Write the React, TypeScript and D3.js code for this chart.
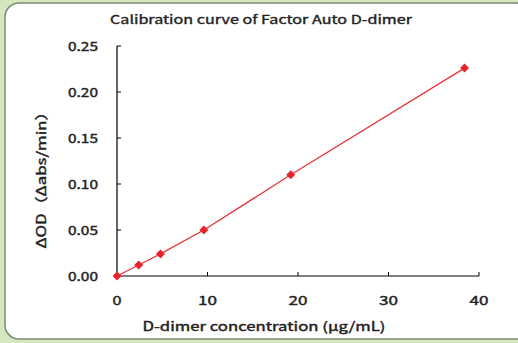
import React from "react";
import * as d3 from "d3";

const xValues = [0, 2.4, 4.8, 9.6, 19.2, 38.4];
const yValues = [0, 0.012, 0.024, 0.05, 0.11, 0.226];
const xTicks = [0, 10, 20, 30, 40];
const yTicks = [0, 0.05, 0.1, 0.15, 0.2, 0.25];
const title = "Calibration curve of Factor Auto D-dimer";
const xLabel = "D-dimer concentration (μg/mL)";
const yLabel = "ΔOD（Δabs/min）";

export default function App() {
  const W = 518, H = 343;
  const x = d3.scaleLinear().domain([0, 40]).range([117, 479]);
  const y = d3.scaleLinear().domain([0, 0.25]).range([276, 46]);
  const pts = xValues.map((v, i) => [x(v), y(yValues[i])] as [number, number]);
  const line = d3.line()(pts) || "";
  const marker = d3.symbol().type(d3.symbolSquare).size(40)() || "";
  const font = "'Noto Sans CJK JP', 'Noto Sans', sans-serif";
  const txt = { fontFamily: font, fill: "#222", stroke: "#222", strokeWidth: 0.4 } as const;
  return (
    <svg width={W} height={H} style={{ position: "fixed", left: 0, top: 0 }}>
      <rect x={0} y={0} width={W} height={H} fill="#d3e8bf" />
      <rect x={5} y={3} width={525} height={336} rx={14} fill="#ffffff" stroke="#7d8a74" strokeWidth={1.5} />
      <text x={261} y={24} textAnchor="middle" {...txt} strokeWidth={0.35} fontSize={12} textLength={302} lengthAdjust="spacingAndGlyphs">{title}</text>
      <line x1={x(0)} x2={x(40)} y1={y(0)} y2={y(0)} stroke="#000" strokeWidth={1.2} />
      <line x1={x(0)} x2={x(0)} y1={y(0)} y2={y(0.25)} stroke="#000" strokeWidth={1.2} />
      {xTicks.map((t) => (
        <g key={"x" + t}>
          {t > 0 && <line x1={x(t)} x2={x(t)} y1={y(0)} y2={y(0) - 4} stroke="#000" strokeWidth={1} />}
          <text x={x(t)} y={305} textAnchor="middle" {...txt} fontSize={12.5} textLength={t === 0 ? 9 : 19} lengthAdjust="spacingAndGlyphs">{t}</text>
        </g>
      ))}
      {yTicks.map((t) => (
        <g key={"y" + t}>
          {t > 0 && <line x1={x(0)} x2={x(0) + 4} y1={y(t)} y2={y(t)} stroke="#000" strokeWidth={1} />}
          <text x={98} y={y(t) + 4.5} textAnchor="end" {...txt} fontSize={12.5} textLength={30} lengthAdjust="spacingAndGlyphs">{t.toFixed(2)}</text>
        </g>
      ))}
      <text x={264} y={331} textAnchor="middle" {...txt} fontSize={12.5} textLength={243} lengthAdjust="spacingAndGlyphs">{xLabel}</text>
      <text transform={`translate(46,176) rotate(-90)`} textAnchor="middle" {...txt} fontSize={13} textLength={145} lengthAdjust="spacingAndGlyphs">{yLabel}</text>
      <path d={line} fill="none" stroke="#e8343a" strokeWidth={1.3} />
      {pts.map((p, i) => (
        <path key={i} d={marker} transform={`translate(${p[0]},${p[1]}) rotate(45)`} fill="#e8232a" />
      ))}
    </svg>
  );
}
